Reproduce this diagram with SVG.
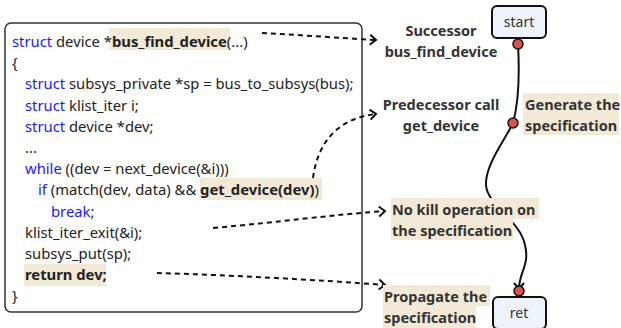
<svg xmlns="http://www.w3.org/2000/svg" width="621" height="328" viewBox="0 0 621 328">
<style>
.code{font-family:"Noto Sans",sans-serif;font-size:14.8px;fill:#222}
.kw{fill:#1a1aff}
.b{font-weight:bold}
.lbl{font-family:"Noto Sans",sans-serif;font-size:14.5px;font-weight:bold;fill:#333}
.hl{fill:#f2ead7}
.node{fill:#eef2fb;stroke:#111;stroke-width:2}
.ntxt{font-family:"Noto Sans",sans-serif;font-size:14px;fill:#333;text-anchor:middle}
.dash{fill:none;stroke:#111;stroke-width:2;stroke-dasharray:5 4}
.flow{fill:none;stroke:#111;stroke-width:2}
.dot{fill:#d9534f;stroke:#111;stroke-width:1.5}
</style>
<defs>
<marker id="arr" markerUnits="userSpaceOnUse" markerWidth="12" markerHeight="14" refX="7" refY="6" orient="auto">
<path d="M1,1 L7,6 L1,11" fill="none" stroke="#111" stroke-width="2"/>
</marker>
</defs>
<rect width="621" height="328" fill="#fff"/>
<g id="code">
<rect x="5" y="23" width="357" height="289" rx="6" fill="#fff" stroke="#333" stroke-width="1.5"/>
<rect class="hl" x="109" y="28" width="121" height="22"/>
<rect class="hl" x="200" y="178" width="122" height="22"/>
<rect class="hl" x="24" y="264" width="82" height="22"/>
<text class="code" x="12" y="47"><tspan class="kw">struct</tspan> device *<tspan class="b">bus_find_device</tspan>(...)</text>
<text class="code" x="12" y="68.2">{</text>
<text class="code" x="25" y="89.4"><tspan class="kw">struct</tspan> subsys_private *sp = bus_to_subsys(bus);</text>
<text class="code" x="25" y="110.6"><tspan class="kw">struct</tspan> klist_iter i;</text>
<text class="code" x="25" y="131.8"><tspan class="kw">struct</tspan> device *dev;</text>
<text class="code" x="25" y="153">...</text>
<text class="code" x="25" y="174.2"><tspan class="kw">while</tspan> ((dev = next_device(&amp;i)))</text>
<text class="code" x="38" y="195.4"><tspan class="kw">if</tspan> (match(dev, data) &amp;&amp; <tspan class="b">get_device(dev)</tspan>)</text>
<text class="code" x="51" y="216.6"><tspan class="kw">break</tspan>;</text>
<text class="code" x="25" y="237.8">klist_iter_exit(&amp;i);</text>
<text class="code" x="25" y="259">subsys_put(sp);</text>
<text class="code b" x="25" y="280.2">return dev;</text>
<text class="code" x="12" y="301.4">}</text>
</g>
<g id="connectors">
<path class="dash" d="M262,33 C300,35 340,38 376,40" marker-end="url(#arr)"/>
<path class="dash" d="M313,178 C318,140 340,118 376,114" marker-end="url(#arr)"/>
<path class="dash" d="M213,228 C280,222 330,215 385,211" marker-end="url(#arr)"/>
<path class="dash" d="M157,273 C230,275 320,280 385,285" marker-end="url(#arr)"/>
<path class="flow" d="M518,44 C520,80 518,105 513,123 C505,140 485,165 486,185 C487,205 520,220 525,245 C530,265 519,272 519,289" marker-end="url(#arr)"/>
</g>
<g id="label-successor">
<text class="lbl" x="441" y="36" text-anchor="middle">Successor</text>
<text class="lbl" x="441" y="57" text-anchor="middle">bus_find_device</text>
</g>
<g id="label-predecessor">
<text class="lbl" x="441" y="110" text-anchor="middle">Predecessor call</text>
<text class="lbl" x="441" y="131" text-anchor="middle">get_device</text>
</g>
<g id="label-generate">
<rect class="hl" x="523" y="93" width="96" height="42"/>
<text class="lbl" x="525" y="110">Generate the</text>
<text class="lbl" x="525" y="131">specification</text>
</g>
<g id="label-nokill">
<rect class="hl" x="391" y="198" width="148" height="21"/>
<rect class="hl" x="391" y="219" width="122" height="21"/>
<text class="lbl" x="392" y="215">No kill operation on</text>
<text class="lbl" x="392" y="236">the specification</text>
</g>
<g id="label-propagate">
<rect class="hl" x="383" y="285" width="107" height="21"/>
<rect class="hl" x="383" y="306" width="93" height="22"/>
<text class="lbl" x="384" y="302">Propagate the</text>
<text class="lbl" x="384" y="323">specification</text>
</g>
<g id="start">
<rect class="node" x="492" y="6" width="54" height="32" rx="5"/>
<text class="ntxt" x="519" y="27">start</text>
<circle class="dot" cx="518" cy="44" r="5"/>
</g>
<g id="mid">
<circle class="dot" cx="513" cy="123" r="5"/>
</g>
<g id="ret">
<rect class="node" x="493" y="297" width="53" height="32" rx="5"/>
<text class="ntxt" x="519" y="318">ret</text>
<circle class="dot" cx="519" cy="291" r="5"/>
</g>
</svg>
